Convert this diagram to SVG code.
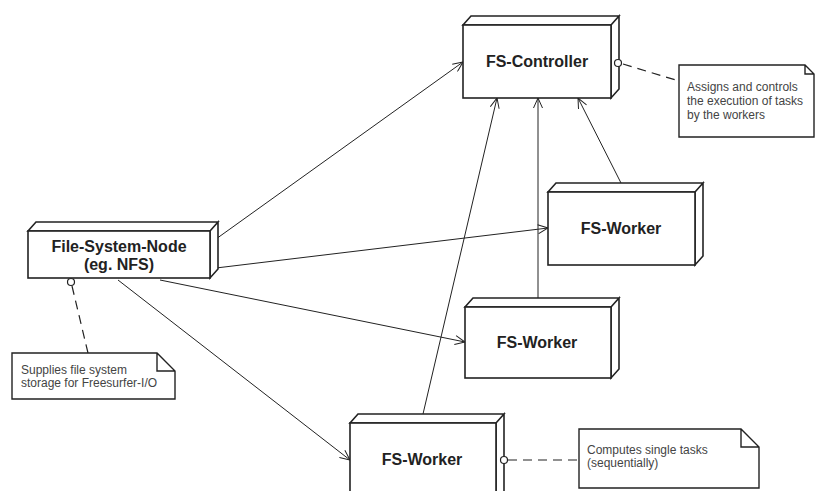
<svg xmlns="http://www.w3.org/2000/svg" width="815" height="491" viewBox="0 0 815 491">
<style>
.box{fill:#fff;stroke:#222;stroke-width:1.6;stroke-linejoin:miter}
.lbl{font-family:"Liberation Sans",Arial,sans-serif;font-weight:bold;font-size:16px;fill:#222;text-anchor:middle}
.note{fill:#fff;stroke:#222;stroke-width:1.4}
.ntxt{font-family:"Liberation Sans",Arial,sans-serif;font-size:12px;fill:#444}
.edge{fill:none;stroke:#222;stroke-width:1}
.dash{fill:none;stroke:#222;stroke-width:1.2;stroke-dasharray:9,6}
.lol{fill:#fff;stroke:#222;stroke-width:1.2}
</style>
<defs>
<marker id="arr" markerWidth="12" markerHeight="10" refX="11" refY="5" orient="auto" markerUnits="userSpaceOnUse">
<path d="M1,0.5 L11,5 L1,9.5" fill="none" stroke="#222" stroke-width="1"/>
</marker>
</defs>
<g id="connectors">
<line class="edge" x1="216" y1="239" x2="463" y2="62" marker-end="url(#arr)"/>
<line class="edge" x1="216" y1="268" x2="548" y2="228" marker-end="url(#arr)"/>
<line class="edge" x1="160" y1="280" x2="465" y2="342" marker-end="url(#arr)"/>
<line class="edge" x1="118" y1="280" x2="350" y2="460" marker-end="url(#arr)"/>
<line class="edge" x1="423" y1="414" x2="497" y2="98" marker-end="url(#arr)"/>
<line class="edge" x1="538" y1="298" x2="538" y2="98" marker-end="url(#arr)"/>
<line class="edge" x1="621" y1="183" x2="578" y2="98" marker-end="url(#arr)"/>
<line class="dash" x1="623" y1="64" x2="679" y2="81"/>
<line class="dash" x1="72" y1="286" x2="88" y2="353"/>
<line class="dash" x1="508" y1="460" x2="579" y2="460"/>
</g>
<g id="fs-controller">
<path class="box" d="M463,25 L471,16 L619,16 L611,25 Z M611,25 L619,16 L619,89 L611,98 Z"/>
<rect class="box" x="463" y="25" width="148" height="73"/>
<circle class="lol" cx="618" cy="63" r="3.5"/>
<text class="lbl" x="537" y="67">FS-Controller</text>
</g>
<g id="file-system-node">
<path class="box" d="M28,231 L36,222 L218,222 L210,231 Z M210,231 L218,222 L218,269 L210,278 Z"/>
<rect class="box" x="28" y="231" width="182" height="47"/>
<circle class="lol" cx="71" cy="282" r="3.5"/>
<text class="lbl" x="119" y="252">File-System-Node</text>
<text class="lbl" x="119" y="270">(eg. NFS)</text>
</g>
<g id="fs-worker-1">
<path class="box" d="M548,192 L556,183 L703,183 L695,192 Z M695,192 L703,183 L703,256 L695,265 Z"/>
<rect class="box" x="548" y="192" width="147" height="73"/>
<text class="lbl" x="621" y="234">FS-Worker</text>
</g>
<g id="fs-worker-2">
<path class="box" d="M465,307 L473,298 L619,298 L611,307 Z M611,307 L619,298 L619,369 L611,378 Z"/>
<rect class="box" x="465" y="307" width="146" height="71"/>
<text class="lbl" x="537" y="348">FS-Worker</text>
</g>
<g id="fs-worker-3">
<path class="box" d="M350,423 L358,414 L504,414 L496,423 Z M496,423 L504,414 L504,494 L496,503 Z"/>
<rect class="box" x="350" y="423" width="146" height="80"/>
<circle class="lol" cx="504" cy="460" r="3.5"/>
<text class="lbl" x="422" y="465">FS-Worker</text>
</g>
<g id="note-controller">
<path class="note" d="M679,65 L805,65 L814,74 L814,137 L679,137 Z M805,65 L805,74 L814,74"/>
<text class="ntxt" x="687" y="91">Assigns and controls</text>
<text class="ntxt" x="687" y="105">the execution of tasks</text>
<text class="ntxt" x="687" y="119">by the workers</text>
</g>
<g id="note-fsn">
<path class="note" d="M12,353 L157,353 L175,371 L175,399 L12,399 Z M157,353 L157,371 L175,371"/>
<text class="ntxt" x="21" y="374">Supplies file system</text>
<text class="ntxt" x="21" y="387">storage for Freesurfer-I/O</text>
</g>
<g id="note-worker">
<path class="note" d="M579,429 L741,429 L759,447 L759,488 L579,488 Z M741,429 L741,447 L759,447"/>
<text class="ntxt" x="587" y="454">Computes single tasks</text>
<text class="ntxt" x="587" y="467">(sequentially)</text>
</g>
</svg>
